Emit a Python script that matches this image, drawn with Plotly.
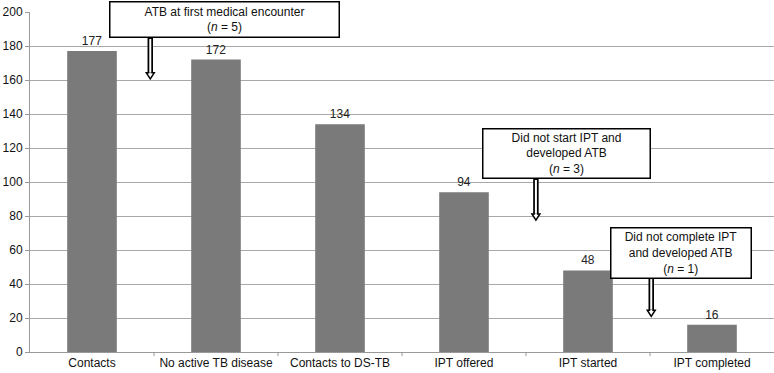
import plotly.graph_objects as go

categories = ["Contacts", "No active TB disease", "Contacts to DS-TB", "IPT offered", "IPT started", "IPT completed"]
values = [177, 172, 134, 94, 48, 16]

callout_texts = [
    "ATB at first medical encounter<br>(<i>n</i> = 5)",
    "Did not start IPT and<br>developed ATB<br>(<i>n</i> = 3)",
    "Did not complete IPT<br>and developed ATB<br>(<i>n</i> = 1)",
]
# box centers (category index, value), sizes in px
box_pos = [(1.07, 195.3, 226, 32), (3.83, 116.5, 164, 46), (4.75, 58.5, 137, 47)]
# arrows: x, y_start (box bottom), y_end (tip)
arrows = [(0.47, 184.7, 160.6), (3.58, 101.8, 77.6), (4.51, 43.5, 21.0)]

FONT = "Arial, Liberation Sans"

fig = go.Figure()
fig.add_trace(go.Bar(
    x=list(range(len(categories))), y=values, width=0.4,
    marker=dict(color="#7a7a7a", line=dict(width=0)),
    text=[str(v) for v in values], textposition="outside",
    textfont=dict(family=FONT, size=12, color="#222"),
    cliponaxis=False,
))

shapes = []
annotations = []
hw = 0.032   # half width of arrowhead (category units)
hh = 3.6     # arrowhead height (value units)
for (x, y0, y1) in arrows:
    shapes.append(dict(type="line", xref="x", yref="y", x0=x, x1=x, y0=y0, y1=y1 + hh,
                       line=dict(color="black", width=5.5)))
    shapes.append(dict(type="line", xref="x", yref="y", x0=x, x1=x, y0=y0 - 0.6, y1=y1 + hh - 0.6,
                       line=dict(color="white", width=2)))
    shapes.append(dict(type="path", xref="x", yref="y",
                       path=f"M {x - hw},{y1 + hh} L {x + hw},{y1 + hh} L {x},{y1} Z",
                       fillcolor="white", line=dict(color="black", width=1.5)))
    shapes.append(dict(type="line", xref="x", yref="y", x0=x, x1=x, y0=y1 + hh + 0.3, y1=y1 + hh - 0.6,
                       line=dict(color="white", width=2)))

for t, (x, y, w, h) in zip(callout_texts, box_pos):
    annotations.append(dict(x=x, y=y, xref="x", yref="y", text=t, showarrow=False,
                            width=w, height=h, align="center", valign="middle",
                            bgcolor="white", bordercolor="black", borderwidth=1.5, borderpad=1,
                            font=dict(family=FONT, size=12, color="#111")))

fig.update_layout(
    width=774, height=373,
    margin=dict(l=30, r=0, t=12, b=21),
    plot_bgcolor="white", paper_bgcolor="white",
    showlegend=False,
    shapes=shapes, annotations=annotations,
    xaxis=dict(tickmode="array", tickvals=list(range(len(categories))), ticktext=categories,
               range=[-0.5, 5.5], showgrid=False, showline=True, linecolor="#999", linewidth=1,
               ticks="", tickfont=dict(family=FONT, size=12, color="#111")),
    yaxis=dict(range=[0, 200], dtick=20, showgrid=True, gridcolor="#a8a8a8", gridwidth=1,
               showline=True, linecolor="#999", linewidth=1, ticks="outside", ticklen=4,
               tickcolor="#999", zeroline=False,
               tickfont=dict(family=FONT, size=12, color="#111")),
)
# boundary tick marks on x axis
for i in range(1, len(categories)):
    fig.add_shape(type="line", xref="x", yref="paper", x0=i - 0.5, x1=i - 0.5, y0=0, y1=-0.012,
                  line=dict(color="#999", width=1))

fig.write_html("out.html")
